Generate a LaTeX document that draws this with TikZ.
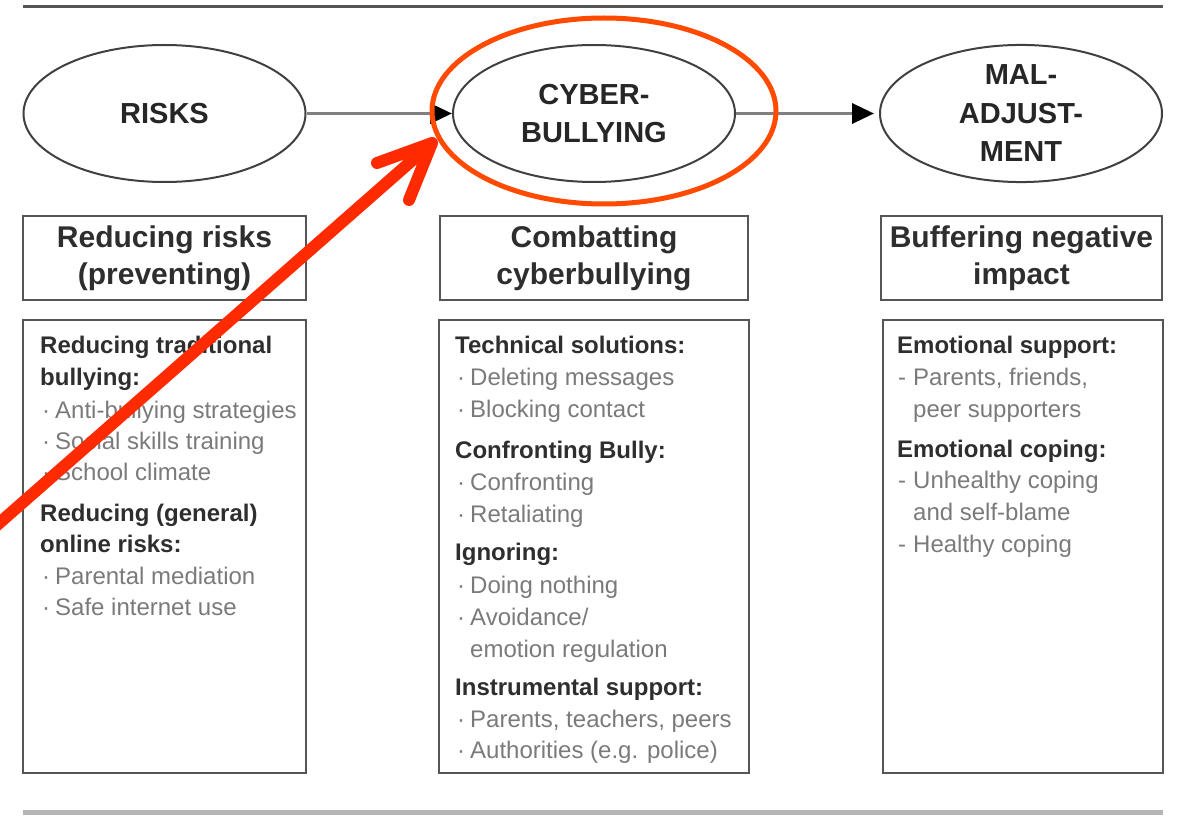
\documentclass[tikz,border=0pt]{standalone}
\usepackage{fontspec}
\setmainfont{Liberation Sans}
\usetikzlibrary{shapes.geometric,arrows.meta}
\definecolor{boxline}{HTML}{555555}
\definecolor{itemgray}{HTML}{7A7A7A}
\definecolor{hdgray}{HTML}{2E2E2E}
\definecolor{annotred}{HTML}{FF2A00}
\definecolor{ringred}{HTML}{FF4A00}
\definecolor{ruletop}{HTML}{555555}
\definecolor{rulebot}{HTML}{B5B5B5}
\newcommand{\mydot}{\makebox[13pt][l]{·}}
\newcommand{\mydash}{\makebox[15pt][l]{-}}
\begin{document}
\begin{tikzpicture}[x=1pt,y=-1pt,
  stage/.style={ellipse, draw=black!75, line width=2pt, minimum width=282pt, minimum height=137pt,
    inner sep=0pt, align=center, font=\fontsize{29}{38.5}\selectfont\bfseries, text=black!85},
  headbox/.style={rectangle, draw=boxline, line width=2.5pt, minimum height=84pt, inner sep=0pt,
    align=center, font=\fontsize{30}{37}\selectfont\bfseries, text=hdgray},
  listbox/.style={rectangle, draw=boxline, line width=2.5pt, minimum height=453pt, inner sep=0pt},
  hd/.style={anchor=base west, inner sep=0pt, font=\fontsize{24}{28}\selectfont\bfseries, text=hdgray},
  it/.style={anchor=base west, inner sep=0pt, font=\fontsize{24}{28}\selectfont, text=itemgray},
  flow/.style={draw=black!50, line width=3.5pt, -{Triangle[length=22pt,width=20pt,color=black]}},
  rule/.style={line width=3pt},
]
\path[use as bounding box] (0,0) rectangle (1203,829);
\clip (0,0) rectangle (1203,829);

% horizontal rules
\coordinate (rt-l) at (23,7);
\coordinate (rt-r) at (1163,7);
\coordinate (rb-l) at (23,812);
\coordinate (rb-r) at (1163,812);
\draw[rule, draw=ruletop] (rt-l) -- (rt-r);
\draw[rule, draw=rulebot, line width=5pt] (rb-l) -- (rb-r);

% stages
\node[stage] (risks) at (164.5,113.5) {RISKS};
\node[stage] (cyber) at (594,113.5) {CYBER-\\BULLYING};
\node[stage] (mal) at (1021,113.5) {MAL-\\ADJUST-\\MENT};

\draw[flow] (risks) -- (cyber);
\draw[flow, shorten >=5pt] (cyber) -- (mal);

% header boxes
\node[headbox, minimum width=283pt] (h1) at (164.5,258) {Reducing risks\\(preventing)};
\node[headbox, minimum width=308pt] (h2) at (594,258) {Combatting\\cyberbullying};
\node[headbox, minimum width=281pt] (h3) at (1021.5,258) {Buffering negative\\impact};

% list boxes
\node[listbox, minimum width=283pt] (l1) at (164.5,546.5) {};
\node[listbox, minimum width=310pt] (l2) at (594,546.5) {};
\node[listbox, minimum width=280pt] (l3) at (1023,546.5) {};

% box 1 text
\node[hd] (a1) at (40,353) {Reducing traditional};
\node[hd] (a2) at (40,385) {bullying:};
\node[it] (a3) at (42,418) {\mydot Anti-bullying strategies};
\node[it] (a4) at (42,449) {\mydot Social skills training};
\node[it] (a5) at (42,480) {\mydot School climate};
\node[hd] (a6) at (40,521) {Reducing (general)};
\node[hd] (a7) at (40,552) {online risks:};
\node[it] (a8) at (42,584) {\mydot Parental mediation};
\node[it] (a9) at (42,615) {\mydot Safe internet use};

% box 2 text
\node[hd] (b1) at (455,353) {Technical solutions:};
\node[it] (b2) at (457,385) {\mydot Deleting messages};
\node[it] (b3) at (457,417) {\mydot Blocking contact};
\node[hd] (b4) at (455,458) {Confronting Bully:};
\node[it] (b5) at (457,490) {\mydot Confronting};
\node[it] (b6) at (457,522) {\mydot Retaliating};
\node[hd] (b7) at (455,560) {Ignoring:};
\node[it] (b8) at (457,593) {\mydot Doing nothing};
\node[it] (b9) at (457,625) {\mydot Avoidance/};
\node[it] (b10) at (457,657) {\hspace*{13pt}emotion regulation};
\node[hd] (b11) at (455,695) {Instrumental support:};
\node[it] (b12) at (457,727) {\mydot Parents, teachers, peers};
\node[it] (b13) at (457,758) {\mydot Authorities (e.g. police)};

% box 3 text
\node[hd] (c1) at (897,353) {Emotional support:};
\node[it] (c2) at (898,385) {\mydash Parents, friends,};
\node[it] (c3) at (898,417) {\hspace*{15pt}peer supporters};
\node[hd] (c4) at (897,457) {Emotional coping:};
\node[it] (c5) at (898,488) {\mydash Unhealthy coping};
\node[it] (c6) at (898,520) {\hspace*{15pt}and self-blame};
\node[it] (c7) at (898,552) {\mydash Healthy coping};

% red annotation
\node[ellipse, draw=ringred, line width=5pt, minimum width=344pt, minimum height=186pt, inner sep=0pt] (ring) at (604,111) {};
\coordinate (ptr-start) at (-12,533);
\coordinate (ptr-tip) at (432,143);
\coordinate (ptr-a) at (377,163);
\coordinate (ptr-b) at (409,200);
\draw[annotred, line width=12pt, line cap=round, line join=round]
  (ptr-start) -- (ptr-tip) (ptr-a) -- (ptr-tip) -- (ptr-b);
\end{tikzpicture}
\end{document}
